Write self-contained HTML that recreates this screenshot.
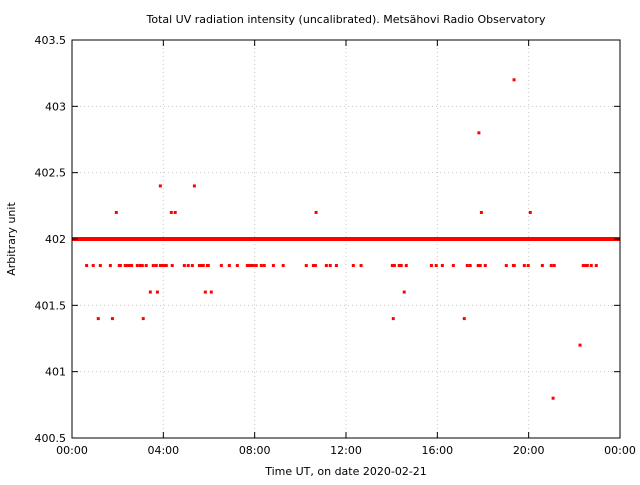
<!DOCTYPE html>
<html><head><meta charset="utf-8"><style>
body{margin:0;background:#fff;}
text{font-family:"DejaVu Sans","Liberation Sans",sans-serif;font-size:11px;fill:#000;}
</style></head><body>
<svg id="chart" width="640" height="480" xmlns="http://www.w3.org/2000/svg">
<rect width="640" height="480" fill="#fff"/>
<g id="grid"></g>
<g id="marks"></g>
<g id="axes"></g>
<text x="346" y="23" text-anchor="middle">Total UV radiation intensity (uncalibrated). Metsähovi Radio Observatory</text>
<text x="346" y="475" text-anchor="middle">Time UT, on date 2020-02-21</text>
<text transform="translate(15,239) rotate(-90)" text-anchor="middle">Arbitrary unit</text>
</svg>
<script>
const yTicks=[400.5,401,401.5,402,402.5,403,403.5];
const yTickLabels=["400.5","401","401.5","402","402.5","403","403.5"];
const xTicks=[0,4,8,12,16,20,24];
const xTickLabels=["00:00","04:00","08:00","12:00","16:00","20:00","00:00"];
const baselineValue=402;
const times=[0.64,0.93,1.24,1.68,2.07,2.12,2.33,2.44,2.53,2.61,2.86,2.99,3.08,3.25,3.56,3.69,3.87,3.95,4.04,4.13,4.39,4.92,5.09,5.27,5.58,5.66,5.75,5.93,5.97,6.54,6.89,7.24,7.68,7.76,7.85,7.94,8.07,8.29,8.42,8.82,9.25,10.26,10.57,10.66,11.14,11.31,11.58,12.32,12.66,14.03,14.12,14.33,14.42,14.64,15.74,15.95,16.22,16.70,17.31,17.44,17.79,17.88,18.10,19.02,19.33,19.37,19.81,19.98,20.60,20.99,21.12,22.39,22.48,22.57,22.74,22.96,
3.43,3.74,5.84,6.10,14.55,
1.15,1.77,3.12,14.07,17.18,
3.87,5.36,
1.94,4.35,4.52,10.69,17.93,20.07,
17.82,19.36,22.25,21.07];
const values=[401.8,401.8,401.8,401.8,401.8,401.8,401.8,401.8,401.8,401.8,401.8,401.8,401.8,401.8,401.8,401.8,401.8,401.8,401.8,401.8,401.8,401.8,401.8,401.8,401.8,401.8,401.8,401.8,401.8,401.8,401.8,401.8,401.8,401.8,401.8,401.8,401.8,401.8,401.8,401.8,401.8,401.8,401.8,401.8,401.8,401.8,401.8,401.8,401.8,401.8,401.8,401.8,401.8,401.8,401.8,401.8,401.8,401.8,401.8,401.8,401.8,401.8,401.8,401.8,401.8,401.8,401.8,401.8,401.8,401.8,401.8,401.8,401.8,401.8,401.8,401.8,
401.6,401.6,401.6,401.6,401.6,
401.4,401.4,401.4,401.4,401.4,
402.4,402.4,
402.2,402.2,402.2,402.2,402.2,402.2,
402.8,403.2,401.2,400.8];
const L=72,R=620,T=40,B=438;
const xs=h=>L+(h-0)/24*(R-L);
const ys=v=>B-(v-400.5)/3*(B-T);
const NS="http://www.w3.org/2000/svg";
function mk(tag,parent,attrs){const e=document.createElementNS(NS,tag);for(const k in attrs)e.setAttribute(k,attrs[k]);parent.appendChild(e);return e;}
const grid=document.getElementById('grid'),axes=document.getElementById('axes'),marks=document.getElementById('marks');
yTicks.forEach((v,i)=>{
  const y=ys(v);
  if(i>0&&i<yTicks.length-1){const g=mk('line',grid,{x1:L,x2:R,y1:y,y2:y,stroke:'#c8c8c8','stroke-dasharray':'1,3'});
  
  }
  const t=mk('line',axes,{x1:L,x2:L+6,y1:y,y2:y,stroke:'#000'});
  
  
  const t2=mk('line',axes,{x1:R-6,x2:R,y1:y,y2:y,stroke:'#000'});
  
  
  const lb=mk('text',axes,{x:L-6,y:y+4,'text-anchor':'end'});lb.textContent=yTickLabels[i];
  
  
});
xTicks.forEach((h,i)=>{
  const x=xs(h);
  if(i>0&&i<xTicks.length-1){const g=mk('line',grid,{x1:x,x2:x,y1:T,y2:B,stroke:'#c8c8c8','stroke-dasharray':'1,3'});
  
  }
  const t=mk('line',axes,{x1:x,x2:x,y1:B,y2:B-6,stroke:'#000'});
  
  
  const t2=mk('line',axes,{x1:x,x2:x,y1:T,y2:T+6,stroke:'#000'});
  
  
  const lb=mk('text',axes,{x:x,y:B+16,'text-anchor':'middle'});lb.textContent=xTickLabels[i];
  
  
});
const fr=mk('rect',axes,{x:L,y:T,width:R-L,height:B-T,fill:'none',stroke:'#000','stroke-width':1});


const base=mk('rect',marks,{x:xs(0),y:ys(baselineValue)-2,width:xs(24)-xs(0),height:4,fill:'#ff0000'});


times.forEach((h,i)=>{
  const p=mk('rect',marks,{x:xs(h)-1.5,y:ys(values[i])-1.5,width:3,height:3,fill:'#ff0000'});
  
  
});
</script>
</body></html>
